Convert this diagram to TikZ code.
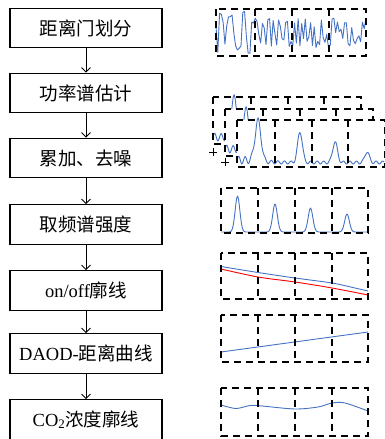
\documentclass[tikz,border=0pt]{standalone}
\usepackage{fontspec}
\setmainfont{Liberation Serif}
\newfontfamily\cjk{Noto Sans CJK SC}
\usetikzlibrary{arrows.meta}
\definecolor{sigblue}{RGB}{68,114,196}
\begin{document}
\begin{tikzpicture}[x=1pt,y=-1pt,
  stepbox/.style={draw,line width=1.1pt,minimum width=152pt,minimum height=39.5pt,inner sep=0pt,font=\fontsize{18.5}{20}\selectfont},
  flow/.style={line width=0.9pt,-{Straight Barb[length=4.5pt,width=9pt,line width=0.9pt]}},
  dbox/.style={draw,line width=2.7pt,dash pattern=on 7pt off 5pt},
  sig/.style={sigblue,line width=0.9pt,line join=round},
  sigred/.style={red,line width=0.9pt,line join=round},
  declare function={g(\u,\c,\s)=exp(-min(((\u-\c)/\s)^2,20));}]
\useasboundingbox (0,0) rectangle (385,439);

% ---- flow chart ----
\node[stepbox] (b1) at (86,28) {\cjk 距离门划分};
\node[stepbox] (b2) at (86,93) {\cjk 功率谱估计};
\node[stepbox] (b3) at (86,158) {\cjk 累加、去噪};
\node[stepbox] (b4) at (86,224.5) {\cjk 取频谱强度};
\node[stepbox] (b5) at (86,290.5) {on/off{\cjk 廓线}};
\node[stepbox] (b6) at (86,353.5) {DAOD-{\cjk 距离曲线}};
\node[stepbox] (b7) at (86,419.5) {CO\textsubscript{2}{\cjk 浓度廓线}};
\draw[flow] (b1) -- (b2);
\draw[flow] (b2) -- (b3);
\draw[flow] (b3) -- (b4);
\draw[flow] (b4) -- (b5);
\draw[flow] (b5) -- (b6);
\draw[flow] (b6) -- (b7);

% ---- panel 1: raw noise ----
\pgfmathsetseed{17}
\draw[sig] plot[domain=216:366, samples=85] (\x, {32.5 + ((\x<255) ? 22 : 15)*(2*rnd-1)});
\draw[dbox] (216,9) rectangle (366,56);
\foreach \d in {255,292,329} \draw[dbox] (\d,9) -- (\d,56);

% ---- panel 2: stacked spectra ----
\foreach \sx/\sy in {-24/-23,-12/-11,0/0}{
  \begin{scope}[shift={(\sx,\sy)}]
    \fill[white] (237,120) rectangle (385,167);
    \begin{scope}
      \clip (237,117) rectangle (385,167);
      \draw[sig] plot[domain=237:384, samples=160] (\x, {164
        - 41*g(\x,258,4.2)
        - 31*g(\x,300,3.3)
        - 21*g(\x,335,3.3)
        - 11*g(\x,367,3)
        - (1.5+2.5*g(\x,237,25))*(1+sin(55*(\x-237)))});
    \end{scope}
    \draw[dbox] (237,120) rectangle (385,167);
    \foreach \d in {275,312,348} \draw[dbox] (\d,120) -- (\d,167);
  \end{scope}
}
\draw[line width=0.6pt] (209,152) -- (217,152) (213,148) -- (213,156);
\draw[line width=0.6pt] (221,162) -- (229,162) (225,158) -- (225,166);

% ---- panel 3: peaks ----
\draw[sig] plot[domain=221:368, samples=160] (\x, {232
  - 36*g(\x,237.5,3.3)
  - 28*g(\x,275,3.3)
  - 24*g(\x,310.5,3.3)
  - 18*g(\x,347,3.3)});
\draw[dbox] (221,188) rectangle (368,233);
\foreach \d in {258,295,332} \draw[dbox] (\d,188) -- (\d,233);

% ---- panel 4: on/off profiles ----
\draw[sig] plot[smooth] coordinates {(221,266.5) (258,272.5) (295,278) (332,283) (355,288) (368,291)};
\draw[sigred] plot[smooth] coordinates {(221,269) (258,277) (295,282) (332,288) (368,295)};
\draw[dbox] (221,253) rectangle (368,299);
\foreach \d in {258,295,332} \draw[dbox] (\d,253) -- (\d,299);

% ---- panel 5: DAOD line ----
\draw[sig] (221,352) -- (368,332);
\draw[dbox] (221,315) rectangle (368,362);
\foreach \d in {258,295,332} \draw[dbox] (\d,315) -- (\d,362);

% ---- panel 6: CO2 profile ----
\draw[sig] plot[smooth] coordinates {(221,405) (236,408.5) (250,405.5) (262,406) (295,409) (318,407) (332,403) (345,403) (368,411)};
\draw[dbox] (221,388) rectangle (368,436);
\foreach \d in {258,295,332} \draw[dbox] (\d,388) -- (\d,436);
\end{tikzpicture}
\end{document}
